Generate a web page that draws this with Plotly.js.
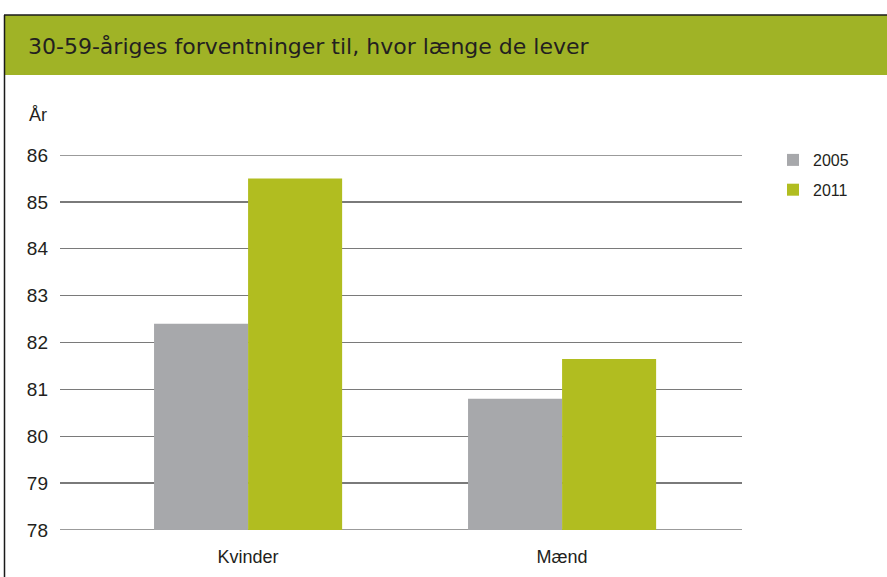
<!DOCTYPE html>
<html>
<head>
<meta charset="utf-8">
<script src="https://cdn.plot.ly/plotly-3.0.1.min.js"></script>
<style>html,body{margin:0;padding:0;background:#fff;}#chart{width:887px;height:577px;}</style>
</head>
<body>
<div id="chart"></div>
<script>
const categories = ["Kvinder", "Mænd"];
const seriesNames = ["2005", "2011"];
const values2005 = [82.4, 80.8];
const values2011 = [85.5, 81.65];
const yTicks = [78, 79, 80, 81, 82, 83, 84, 85, 86];

const colors = ["#a7a8ab", "#b1bd20"];
const font = "Liberation Sans, Arial, sans-serif";

const traces = [
  {type: "bar", name: seriesNames[0], legendgroup: "g1", x: [0, 1], y: values2005, marker: {color: colors[0]}, hoverinfo: "y"},
  {type: "bar", name: seriesNames[1], legendgroup: "g2", x: [0, 1], y: values2011, marker: {color: colors[1]}, hoverinfo: "y"}
];

const L = 60, R = 742, T = 155, B = 530, W = 887, H = 577;
const px = v => (v - L) / (R - L);
const py = v => (B - v) / (B - T);
const yMin = yTicks[0], yMax = yTicks[yTicks.length - 1];

const layout = {
  width: W, height: H,
  margin: {l: L, r: W - R, t: T, b: H - B, pad: 0},
  paper_bgcolor: "#fff", plot_bgcolor: "#fff",
  font: {family: font, size: 18, color: "#231f20"},
  barmode: "group",
  bargap: 0.401, bargroupgap: 0,
  showlegend: true,
  legend: {x: px(773), y: py(143), xanchor: "left", yanchor: "top", font: {size: 16, color: "#231f20"},
           itemwidth: 30, tracegroupgap: 6, bgcolor: "rgba(0,0,0,0)"},
  title: {text: "30-59-åriges forventninger til, hvor længe de lever",
          font: {family: "DejaVu Sans, Liberation Sans, sans-serif", size: 22, color: "#231f20"},
          xref: "container", yref: "container", x: 28 / W, xanchor: "left", y: 1 - 46 / H, yanchor: "middle"},
  xaxis: {range: [-0.599, 1.573], tickvals: [0, 1], ticktext: categories, showgrid: false, zeroline: false,
          showline: false, ticks: "", ticklabelstandoff: 14, tickfont: {size: 18, color: "#231f20"}, fixedrange: true},
  yaxis: {range: [yMin, yMax], tickvals: yTicks, ticktext: yTicks.map(String), showgrid: true, gridcolor: "#7a7a7a",
          gridwidth: 1.4, zeroline: false, showline: false, ticks: "", ticklabelstandoff: 11,
          tickfont: {size: 19, color: "#231f20"}, fixedrange: true},
  shapes: [
    {type: "rect", xref: "paper", yref: "paper", x0: px(4), x1: px(890), y0: py(75), y1: py(15),
     fillcolor: "#a0b326", line: {width: 0}, layer: "below"},
    {type: "line", xref: "paper", yref: "paper", x0: px(4), x1: px(890), y0: py(15), y1: py(15),
     line: {color: "#1a1a1a", width: 1.5}},
    {type: "line", xref: "paper", yref: "paper", x0: px(4.5), x1: px(4.5), y0: py(15), y1: py(580),
     line: {color: "#1a1a1a", width: 1.5}},
    {type: "line", xref: "paper", yref: "y", x0: 0, x1: 1, y0: yMax, y1: yMax,
     line: {color: "#7a7a7a", width: 1.4}, layer: "below"},
    {type: "line", xref: "paper", yref: "y", x0: 0, x1: 1, y0: yMin, y1: yMin,
     line: {color: "#7a7a7a", width: 1.4}, layer: "below"}
  ],
  annotations: [
    {text: "År", xref: "paper", yref: "paper", x: px(27), y: py(115), xanchor: "left", yanchor: "middle",
     showarrow: false, font: {size: 18, color: "#231f20"}}
  ]
};

Plotly.newPlot("chart", traces, layout, {displayModeBar: false, staticPlot: true});
</script>
</body>
</html>
